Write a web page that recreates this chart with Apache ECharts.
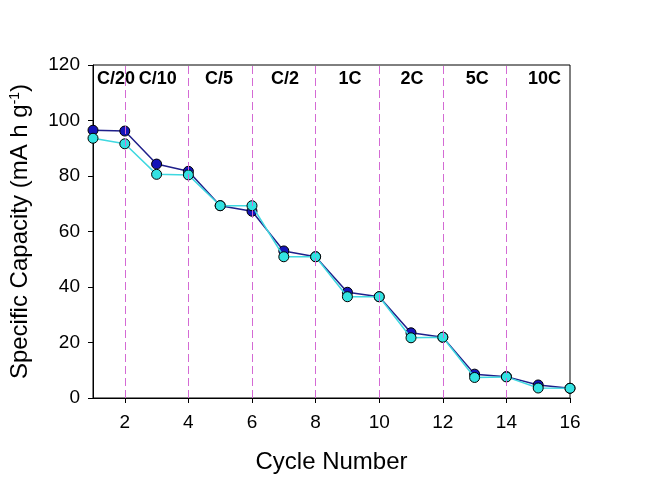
<!DOCTYPE html>
<html>
<head>
<meta charset="utf-8">
<script src="https://cdn.jsdelivr.net/npm/echarts@6/dist/echarts.min.js"></script>
<style>
  html, body { margin: 0; padding: 0; background: #fff; }
  #chart { width: 657px; height: 479px; }
</style>
</head>
<body>
<div id="chart"></div>
<script>
  // 数据
  const cycles = [1, 2, 3, 4, 5, 6, 7, 8, 9, 10, 11, 12, 13, 14, 15, 16];
  const chargeCap = [96.5, 96.2, 84.3, 81.7, 69.3, 67.3, 53.0, 50.9, 38.1, 36.5, 23.5, 21.9, 8.6, 7.7, 4.7, 3.5];
  const dischargeCap = [93.6, 91.6, 80.6, 80.4, 69.3, 69.3, 50.9, 50.9, 36.5, 36.5, 21.7, 21.9, 7.4, 7.6, 3.6, 3.5];
  const xTicks = [2, 4, 6, 8, 10, 12, 14, 16];
  const rateBreaks = [2, 4, 6, 8, 10, 12, 14];
  const rateLabels = ['C/20', 'C/10', 'C/5', 'C/2', '1C', '2C', '5C', '10C'];
  const rateLabelX = [1.72, 3.04, 4.96, 7.04, 9.08, 11.03, 13.08, 15.2];
  const rateLabelY = 115;

  const font = "'Liberation Sans', Arial, sans-serif";
  const myChart = echarts.init(document.getElementById('chart'));

  const zip = (xs, ys) => xs.map((x, i) => [x, ys[i]]);

  let option = {
    backgroundColor: '#fff',
    animation: false,
    grid: {
      left: 93,
      right: 87,
      top: 65,
      bottom: 80,
      show: true,
      borderColor: '#000',
      borderWidth: 1,
      backgroundColor: 'transparent'
    },
    xAxis: {
      type: 'value',
      min: 1,
      max: 16,
      name: 'Cycle Number',
      nameLocation: 'middle',
      nameGap: 52,
      nameTextStyle: { fontFamily: font, fontSize: 24, color: '#000' },
      axisLine: { show: true, lineStyle: { color: '#000', width: 1 } },
      axisTick: { show: true, inside: false, length: 5, customValues: xTicks, lineStyle: { color: '#000' } },
      axisLabel: { customValues: xTicks, margin: 15, fontFamily: font, fontSize: 19, color: '#000' },
      splitLine: { show: false }
    },
    yAxis: {
      type: 'value',
      min: 0,
      max: 120,
      interval: 20,
      name: 'Specific Capacity (mA h g{sup|-1})',
      nameLocation: 'middle',
      nameRotate: 90,
      nameGap: 61,
      nameTextStyle: {
        fontFamily: font, fontSize: 24, color: '#000',
        rich: {
          sup: { fontFamily: font, fontSize: 14, color: '#000', verticalAlign: 'top', padding: [0, 0, 10, 0] }
        }
      },
      axisLine: { show: true, lineStyle: { color: '#000', width: 1 } },
      axisTick: { show: true, inside: false, length: 5, lineStyle: { color: '#000' } },
      axisLabel: { margin: 13, fontFamily: font, fontSize: 19, color: '#000' },
      splitLine: { show: false }
    },
    series: [
      {
        name: 'charge',
        type: 'line',
        data: zip(cycles, chargeCap),
        symbol: 'circle',
        symbolSize: 10,
        lineStyle: { color: '#1f1f8a', width: 1.5 },
        itemStyle: { color: '#1414b8', borderColor: '#000', borderWidth: 1 },
        markLine: {
          silent: true,
          symbol: ['none', 'none'],
          label: { show: false },
          lineStyle: { color: '#d46ad4', type: [8, 4], width: 1 },
          data: rateBreaks.map(x => ({ xAxis: x }))
        },
        z: 3
      },
      {
        name: 'discharge',
        type: 'line',
        data: zip(cycles, dischargeCap),
        symbol: 'circle',
        symbolSize: 10,
        lineStyle: { color: '#3fd8e0', width: 1.5 },
        itemStyle: { color: '#33e2e2', borderColor: '#000', borderWidth: 1 },
        z: 4
      },
      {
        name: 'rates',
        type: 'custom',
        silent: true,
        z: 5,
        data: rateLabelX.map((x, i) => [x, rateLabelY, i]),
        renderItem: function (params, api) {
          const pt = api.coord([api.value(0), api.value(1)]);
          return {
            type: 'text',
            x: pt[0],
            y: pt[1],
            style: {
              text: rateLabels[api.value(2)],
              fill: '#000',
              font: 'bold 18px ' + font,
              align: 'center',
              verticalAlign: 'middle'
            }
          };
        }
      }
    ]
  };
  myChart.setOption(option);
</script>
</body>
</html>
